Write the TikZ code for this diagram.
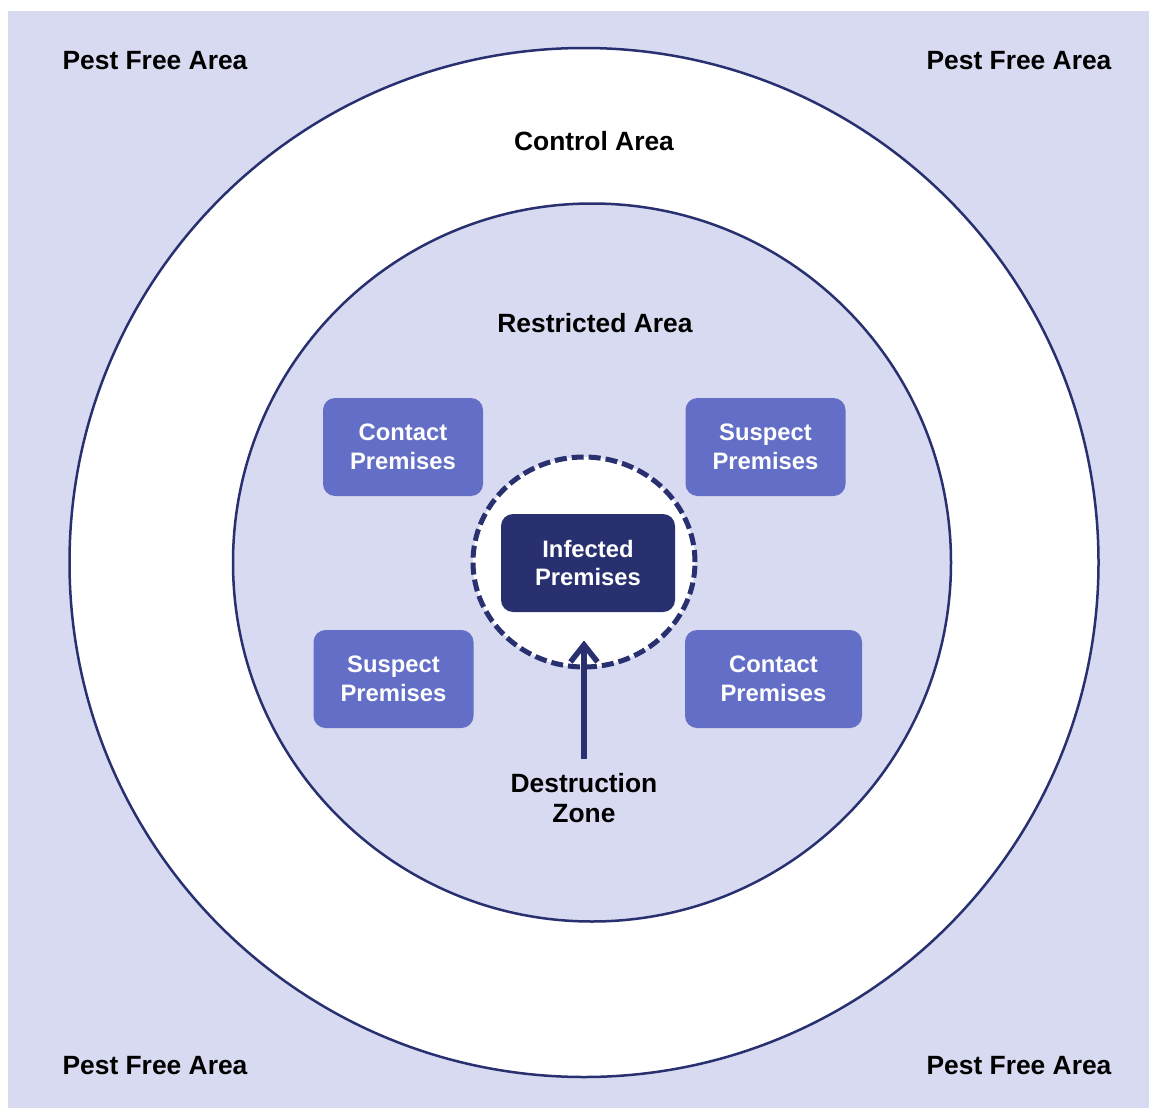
\documentclass[tikz,border=0pt]{standalone}
\usepackage{fontspec}
\setmainfont{Liberation Sans}
\usetikzlibrary{shapes.geometric,arrows.meta}
\definecolor{lav}{RGB}{216,218,241}
\definecolor{midblue}{RGB}{99,110,198}
\definecolor{navy}{RGB}{40,48,112}
\tikzset{
  area/.style={font=\fontsize{26.4}{30}\selectfont\bfseries,align=center,text=black},
  prem/.style={rectangle,rounded corners=12pt,fill=midblue,text=white,align=center,
    minimum width=160pt,minimum height=98pt,font=\fontsize{23.8}{28.5}\selectfont\bfseries},
}
\begin{document}
\begin{tikzpicture}[x=1pt,y=-1pt]
  \useasboundingbox (0,0) rectangle (1149,1108);
  \fill[lav] (8,11) rectangle (1149,1108);
  % zones
  \draw[navy,line width=2.5pt,fill=white] (584,562.5) circle (514.5);
  \draw[navy,line width=2.5pt,fill=lav] (592,562.5) circle (359);
  \node[ellipse,draw=navy,fill=white,line width=5pt,dash pattern=on 12pt off 5pt,
    minimum width=222pt,minimum height=210pt,inner sep=0pt] (dz) at (584,562) {};
  % labels
  \node[area] (pfa1) at (155,61) {Pest Free Area};
  \node[area] (pfa2) at (1019,61) {Pest Free Area};
  \node[area] (pfa3) at (155,1066) {Pest Free Area};
  \node[area] (pfa4) at (1019,1066) {Pest Free Area};
  \node[area] (ctrl) at (594,141) {Control Area};
  \node[area] (restr) at (595,323) {Restricted Area};
  % premises
  \node[prem] (cp1) at (403,447) {Contact\\Premises};
  \node[prem] (sp1) at (765.5,447) {Suspect\\Premises};
  \node[prem] (sp2) at (393.5,679) {Suspect\\Premises};
  \node[prem,minimum width=177pt] (cp2) at (773.5,679) {Contact\\Premises};
  \node[prem,fill=navy,minimum width=174pt] (ip) at (588,563) {Infected\\Premises};
  % destruction zone
  \node[area,inner sep=0pt] (dzlab) at (584,798) {Destruction\\Zone};
  \draw[navy,line width=5.5pt,-{Straight Barb[length=17pt,width=27pt]}]
    ([yshift=14pt]dzlab.north) -- ([yshift=29pt]dz.south);
\end{tikzpicture}
\end{document}
